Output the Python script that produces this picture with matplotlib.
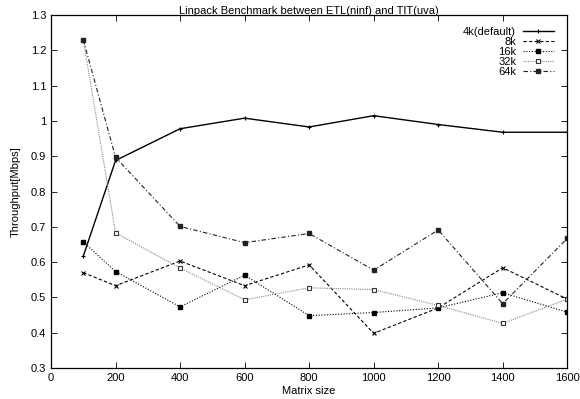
import matplotlib.pyplot as plt
from matplotlib.ticker import FuncFormatter

plt.rcParams['font.family'] = ['Liberation Sans', 'DejaVu Sans']

size = [100, 200, 400, 600, 800, 1000, 1200, 1400, 1600]
k4 = [0.617, 0.888, 0.978, 1.008, 0.983, 1.015, 0.990, 0.968, 0.968]
k8 = [0.570, 0.533, 0.603, 0.533, 0.592, 0.398, 0.470, 0.584, 0.495]
k16 = [0.657, 0.573, 0.473, 0.563, 0.448, 0.457, 0.470, 0.513, 0.458]
k32 = [1.230, 0.683, 0.583, 0.493, 0.527, 0.522, 0.477, 0.426, 0.495]
k64 = [1.230, 0.897, 0.701, 0.655, 0.681, 0.577, 0.691, 0.482, 0.667]

fig = plt.figure(figsize=(5.8, 3.99), dpi=100)
ax = fig.add_axes([0.088, 0.078, 0.890, 0.884])

ax.plot(size, k4, '-', color='black', lw=1.0, marker='+', ms=3, mew=0.8, label='4k(default)')
ax.plot(size, k8, color='black', lw=0.8, ls=(0, (3, 2)), marker='x', ms=3, mew=0.8, label='8k')
ax.plot(size, k16, color='black', lw=0.8, ls=(0, (1, 1.5)), marker='s', ms=2.8, label='16k')
ax.plot(size, k32, color='#888888', lw=0.8, ls=(0, (1, 1)), marker='s', ms=3.5, mfc='white',
        mec='#333333', mew=0.8, label='32k')
ax.plot(size, k64, color='#222222', lw=0.8, ls=(0, (4, 2, 1, 2)), marker='s', ms=3.5, label='64k')

ax.set_xlim(0, 1600)
ax.set_ylim(0.3, 1.3)
ax.set_xticks(range(0, 1601, 200))
ax.set_yticks([0.3, 0.4, 0.5, 0.6, 0.7, 0.8, 0.9, 1.0, 1.1, 1.2, 1.3])
ax.yaxis.set_major_formatter(FuncFormatter(lambda v, p: '%g' % round(v, 2)))
ax.tick_params(direction='in', top=True, right=True, labelsize=8, length=4, width=0.6)
for s in ax.spines.values():
    s.set_linewidth(0.9)

ax.set_title('Linpack Benchmark between ETL(ninf) and TIT(uva)', fontsize=8, pad=1)
ax.set_xlabel('Matrix size', fontsize=8, labelpad=2)
ax.set_ylabel('Throughput[Mbps]', fontsize=8, labelpad=7)

ax.legend(loc='upper right', bbox_to_anchor=(0.983, 0.980), borderaxespad=0,
          markerfirst=False, frameon=False, fontsize=8,
          handlelength=2.8, labelspacing=0.0, handletextpad=0.6)

fig.savefig('out.png', dpi=100)
